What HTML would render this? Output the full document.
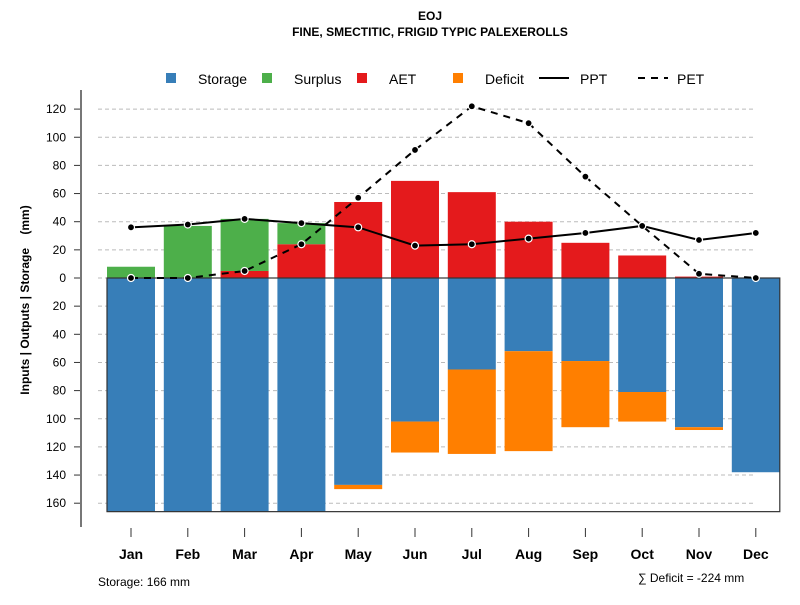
<!DOCTYPE html>
<html><head><meta charset="utf-8"><style>
body{margin:0;background:#fff;}
svg text{font-family:"Liberation Sans",sans-serif;}
</style></head><body>
<svg id="chart" width="800" height="600" xmlns="http://www.w3.org/2000/svg">
<text x="430" y="20" text-anchor="middle" font-size="12" font-weight="bold">EOJ</text>
<text x="430" y="36" text-anchor="middle" font-size="12" font-weight="bold">FINE, SMECTITIC, FRIGID TYPIC PALEXEROLLS</text>
<g font-size="14">
<rect x="166" y="73" width="10" height="10" fill="#377eb8"/>
<text x="198" y="84">Storage</text>
<rect x="262" y="73" width="10" height="10" fill="#4daf4a"/>
<text x="294" y="84">Surplus</text>
<rect x="357" y="73" width="10" height="10" fill="#e41a1c"/>
<text x="389" y="84">AET</text>
<rect x="453" y="73" width="10" height="10" fill="#ff7f00"/>
<text x="485" y="84">Deficit</text>
<line x1="539" y1="78" x2="569" y2="78" stroke="#000" stroke-width="2"/>
<text x="580" y="84">PPT</text>
<line x1="638" y1="78" x2="668" y2="78" stroke="#000" stroke-width="2" stroke-dasharray="7,6"/>
<text x="677" y="84">PET</text>
</g>
<text transform="translate(29,300) rotate(-90)" text-anchor="middle" font-size="12" font-weight="bold" style="white-space:pre">Inputs | Outputs | Storage    (mm)</text>
<text x="98" y="586" font-size="12">Storage: 166 mm</text>
<text x="638" y="582" font-size="12">∑ Deficit = -224 mm</text>
<g id="grid"></g><g id="bars"></g><g id="axes"></g><g id="lines"></g>
</svg>
<script>
const months=["Jan","Feb","Mar","Apr","May","Jun","Jul","Aug","Sep","Oct","Nov","Dec"];
const aet=[0,0,5,24,54,69,61,40,25,16,1,0];
const surplus=[8,37,37,15,0,0,0,0,0,0,0,0];
const storage=[166,166,166,166,147,102,65,52,59,81,106,138];
const deficit=[0,0,0,0,3,22,60,71,47,21,2,0];
const ppt=[36,38,42,39,36,23,24,28,32,37,27,32];
const pet=[0,0,5,24,57,91,122,110,72,37,3,0];
const yTicks=[120,100,80,60,40,20,0,20,40,60,80,100,120,140,160];
const yTickVals=[120,100,80,60,40,20,0,-20,-40,-60,-80,-100,-120,-140,-160];
const NS="http://www.w3.org/2000/svg";
const y=v=>278-v*1.4075;
const x=i=>131+i*56.8;
const bw=48;
function mk(t,attrs,parent){const e=document.createElementNS(NS,t);for(const k in attrs)e.setAttribute(k,attrs[k]);document.getElementById(parent).appendChild(e);return e;}
yTickVals.forEach((v,i)=>{
 const g=mk("line",{x1:98,x2:756,y1:y(v),y2:y(v),stroke:"#bbb","stroke-dasharray":"4,3"},"grid");
 
 
 const t=mk("line",{x1:74,x2:81,y1:y(v),y2:y(v),stroke:"#333"},"axes");
 
 
 const l=mk("text",{x:66,y:y(v)+4,"text-anchor":"end","font-size":"12"},"axes");
 l.textContent=yTicks[i];
 
 
});
months.forEach((m,i)=>{
 const cx=x(i),x0=cx-bw/2;
 const parts=[["storage",0,-storage[i],"#377eb8"],["deficit",-storage[i],-storage[i]-deficit[i],"#ff7f00"],["aet",0,aet[i],"#e41a1c"],["surplus",aet[i],aet[i]+surplus[i],"#4daf4a"]];
 parts.forEach(p=>{
  if(p[1]===p[2])return;
  const a=y(p[1]),b=y(p[2]);
  const r=mk("rect",{x:x0,y:Math.min(a,b),width:bw,height:Math.abs(b-a),fill:p[3]},"bars");
  
  
 });
 const t=mk("line",{x1:cx,x2:cx,y1:528,y2:537,stroke:"#333"},"axes");
 
 
 const l=mk("text",{x:cx,y:559,"text-anchor":"middle","font-size":"14","font-weight":"bold"},"axes");
 l.textContent=m;
 
 
});
const box=mk("rect",{x:x(0)-bw/2,y:y(0),width:x(11)+bw/2-(x(0)-bw/2),height:y(-166)-y(0),fill:"none",stroke:"#333","stroke-width":1.2},"axes");


const ax=mk("line",{x1:81,x2:81,y1:90,y2:527,stroke:"#777","stroke-width":2},"axes");


[[ppt,"ppt",null],[pet,"pet","7,6"]].forEach(s=>{
 const pts=s[0].map((v,i)=>x(i)+","+y(v)).join(" ");
 const pl=mk("polyline",{points:pts,fill:"none",stroke:"#000","stroke-width":2},"lines");
 if(s[2])pl.setAttribute("stroke-dasharray",s[2]);
 
 
 s[0].forEach((v,i)=>{
  const c=mk("circle",{cx:x(i),cy:y(v),r:3.5,fill:"#000",stroke:"#fff","stroke-width":1.2},"lines");
  
  
 });
});
</script>
</body></html>
